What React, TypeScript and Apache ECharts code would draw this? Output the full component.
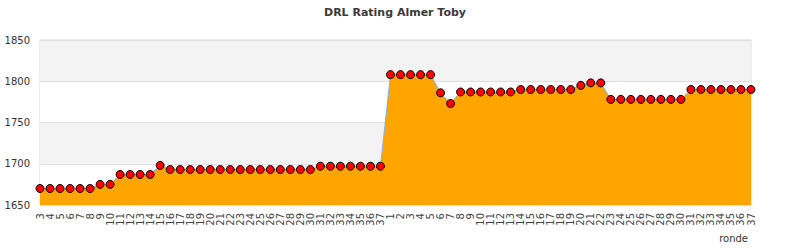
import React, { useEffect, useRef } from "react";
import * as echarts from "echarts";

const TITLE = "DRL Rating Almer Toby";
const X_NAME = "ronde";

const rondes = [
  "3", "4", "5", "6", "7", "8", "9", "10", "11", "12", "13", "14", "15", "16", "17", "18", "19", "20",
  "21", "22", "23", "24", "25", "26", "27", "28", "29", "30", "31", "32", "33", "34", "35", "36", "37",
  "1", "2", "3", "4", "5", "6", "7", "8", "9", "10", "11", "12", "13", "14", "15", "16", "17", "18", "19",
  "20", "21", "22", "23", "24", "25", "26", "27", "28", "29", "30", "31", "32", "33", "34", "35", "36", "37",
];

const ratings = [
  1670, 1670, 1670, 1670, 1670, 1670, 1675, 1675, 1687, 1687, 1687, 1687, 1698,
  1693, 1693, 1693, 1693, 1693, 1693, 1693, 1693, 1693, 1693, 1693, 1693, 1693, 1693, 1693,
  1697, 1697, 1697, 1697, 1697, 1697, 1697,
  1808, 1808, 1808, 1808, 1808, 1786, 1773,
  1787, 1787, 1787, 1787, 1787, 1787,
  1790, 1790, 1790, 1790, 1790, 1790, 1795, 1798, 1798,
  1778, 1778, 1778, 1778, 1778, 1778, 1778, 1778,
  1790, 1790, 1790, 1790, 1790, 1790, 1790,
];

const yMin = 1650;
const yMax = 1850;
const yStep = 50;

export default function App() {
  const ref = useRef<HTMLDivElement>(null);
  useEffect(() => {
    if (!ref.current) return;
    const chart = echarts.init(ref.current, undefined, { renderer: "svg" });
    const font = "DejaVu Sans";
    chart.setOption({
      animation: false,
      backgroundColor: "#ffffff",
      title: {
        text: TITLE,
        left: "center",
        top: 2,
        textStyle: { fontSize: 11, fontWeight: "bold", color: "#3a3a3a", fontFamily: font },
      },
      grid: {
        left: 40,
        right: 39,
        top: 40,
        bottom: 45,
        show: true,
        borderColor: "#d8d8d8",
        borderWidth: 1,
        backgroundColor: "transparent",
      },
      xAxis: {
        type: "category",
        data: rondes,
        boundaryGap: false,
        name: X_NAME,
        nameLocation: "end",
        nameGap: 0,
        nameTextStyle: {
          fontSize: 10,
          color: "#333",
          fontFamily: font,
          align: "right",
          verticalAlign: "top",
          padding: [28, 3, 0, 0],
        },
        axisLine: { show: false },
        axisTick: { show: false },
        axisLabel: {
          interval: 0,
          rotate: 90,
          fontSize: 10,
          color: "#444",
          fontFamily: font,
          margin: 8,
        },
        splitLine: { show: false },
      },
      yAxis: {
        type: "value",
        min: yMin,
        max: yMax,
        interval: yStep,
        axisLine: { show: false },
        axisTick: { show: false },
        axisLabel: {
          fontSize: 10,
          color: "#333",
          fontFamily: font,
          margin: 10,
          formatter: (v: number) => String(v),
        },
        splitLine: { show: true, lineStyle: { color: "#e0e0e0", width: 1 } },
        splitArea: { show: true, areaStyle: { color: ["#ffffff", "#f3f3f3"] } },
      },
      series: [
        {
          type: "line",
          data: ratings,
          symbol: "circle",
          symbolSize: 8,
          showAllSymbol: true,
          lineStyle: { color: "#7cb0e8", width: 1 },
          itemStyle: { color: "#ff0000", borderColor: "#000000", borderWidth: 1 },
          areaStyle: { color: "#ffa500", opacity: 1 },
          z: 3,
        },
      ],
    });
    return () => chart.dispose();
  }, []);
  return (
    <div
      ref={ref}
      style={{ position: "fixed", left: 0, top: 0, width: 790, height: 250 }}
    />
  );
}
